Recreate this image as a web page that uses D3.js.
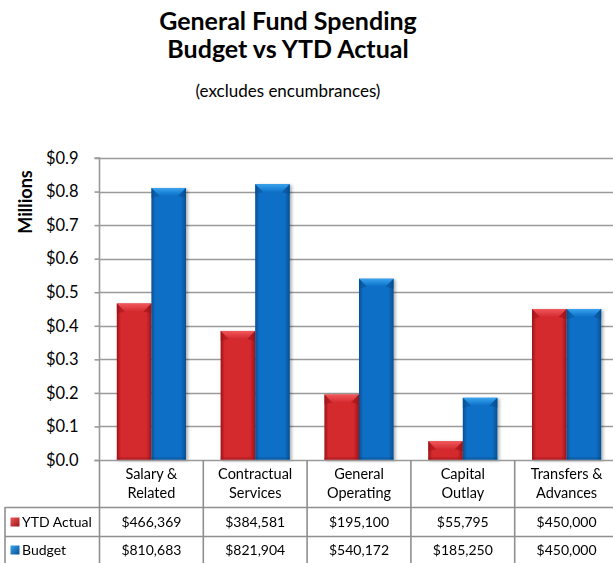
<!DOCTYPE html>
<html><head><meta charset="utf-8">
<script src="https://cdn.jsdelivr.net/npm/d3@7"></script>
<style>html,body{margin:0;padding:0;background:#fff;}svg{display:block;font-family:Lato,"Open Sans",sans-serif;}</style>
</head><body>
<svg id="c" width="613" height="563"></svg>
<script>
const categories = [["Salary &","Related"],["Contractual","Services"],["General","Operating"],["Capital","Outlay"],["Transfers &","Advances"]];
const seriesNames = ["YTD Actual","Budget"];
const ytdActual = [466369, 384581, 195100, 55795, 450000];
const budget = [810683, 821904, 540172, 185250, 450000];
const yTicks = [0,0.1,0.2,0.3,0.4,0.5,0.6,0.7,0.8,0.9];
const series = [ytdActual, budget];
const colors = [{base:"#d42a2f", light:"#f0585c", dark:"#9e1418"},{base:"#0a6fc6", light:"#3aa3ef", dark:"#064f92"}];

(function(){
const svg = d3.select("#c");
const pLeft = 99.5, pRight = 618.5, pTop = 158, pBottom = 460;
const x = d3.scaleBand().domain(d3.range(categories.length)).range([pLeft,pRight]).paddingInner(0).paddingOuter(0);
const xs = d3.scaleBand().domain([0,1]).range([0, x.bandwidth()]).paddingOuter(0.5).paddingInner(0);
const y = d3.scaleLinear().domain([0,0.9]).range([pBottom,pTop]);

const defs = svg.append("defs");
colors.forEach((c,i)=>{
  const g = defs.append("linearGradient").attr("id","g"+i).attr("x1",0).attr("x2",1).attr("y1",0).attr("y2",0);
  g.append("stop").attr("offset","0").attr("stop-color",c.dark);
  g.append("stop").attr("offset","0.12").attr("stop-color",c.base);
  g.append("stop").attr("offset","0.85").attr("stop-color",c.base);
  g.append("stop").attr("offset","1").attr("stop-color",c.dark);
  const t = defs.append("linearGradient").attr("id","t"+i).attr("x1",0).attr("x2",0).attr("y1",0).attr("y2",1);
  t.append("stop").attr("offset","0").attr("stop-color",c.light);
  t.append("stop").attr("offset","1").attr("stop-color",c.base);
  const m = defs.append("linearGradient").attr("id","m"+i).attr("x1",0).attr("x2",1).attr("y1",0).attr("y2",1);
  m.append("stop").attr("offset","0").attr("stop-color",c.light);
  m.append("stop").attr("offset","1").attr("stop-color",c.dark);
});
const f = defs.append("filter").attr("id","sh").attr("x","-20%").attr("y","-5%").attr("width","150%").attr("height","115%");
f.append("feDropShadow").attr("dx",2).attr("dy",1).attr("stdDeviation",1.5).attr("flood-color","#000").attr("flood-opacity",0.3);

// Titles
svg.append("text").attr("x",288).attr("y",30).attr("text-anchor","middle").attr("font-weight","bold").attr("font-size",25).text("General Fund Spending");
svg.append("text").attr("x",288).attr("y",57.5).attr("text-anchor","middle").attr("font-weight","bold").attr("font-size",25).text("Budget vs YTD Actual");
svg.append("text").attr("x",288).attr("y",97).attr("text-anchor","middle").attr("font-size",17).text("(excludes encumbrances)");

// Gridlines
svg.append("g").selectAll("line").data(yTicks.slice(1)).join("line")
  .attr("x1",pLeft).attr("x2",613).attr("y1",d=>Math.round(y(d))+0.5).attr("y2",d=>Math.round(y(d))+0.5)
  .attr("stroke","#9a9a9a").attr("stroke-width",1.6);

// Y axis
const yAxis = d3.axisLeft(y).tickValues(yTicks).tickSize(5).tickPadding(16).tickFormat(d=>"$"+d3.format(".1f")(d));
const ya = svg.append("g").attr("transform",`translate(${pLeft},0)`).call(yAxis);
ya.select(".domain").attr("stroke","#9a9a9a").attr("stroke-width",1.6).attr("d",`M-5,${pTop}H0V${pBottom}`);
ya.selectAll(".tick line").attr("stroke","#9a9a9a").attr("stroke-width",1.6);
ya.selectAll(".tick text").attr("font-size",16.5).attr("fill","#000").attr("font-family","Lato");
svg.append("text").attr("transform","translate(32,202) rotate(-90)").attr("text-anchor","middle").attr("font-weight","bold").attr("font-size",18).text("Millions");

// Bars
series.forEach((s,si)=>{
  const g = svg.append("g").attr("filter","url(#sh)");
  s.forEach((v,ci)=>{
    const bx = x(ci)+xs(si), bw = xs.bandwidth(), by = y(v/1e6), bh = pBottom-by;
    g.append("rect").attr("x",bx).attr("y",by).attr("width",bw).attr("height",bh).attr("fill",`url(#g${si})`);
    const b = Math.min(8, bh/2);
    g.append("path").attr("d",`M${bx},${by}L${bx+bw},${by}L${bx+bw-b},${by+b}L${bx+b},${by+b}Z`).attr("fill",`url(#t${si})`);
    g.append("path").attr("d",`M${bx},${by}L${bx+b},${by+b}L${bx},${by+b+2}Z`).attr("fill",colors[si].dark).attr("opacity",0.5);
    g.append("path").attr("d",`M${bx+bw},${by}L${bx+bw-b},${by+b}L${bx+bw},${by+b+2}Z`).attr("fill",colors[si].dark).attr("opacity",0.6);
    g.append("rect").attr("x",bx).attr("y",pBottom-3).attr("width",bw).attr("height",3).attr("fill",colors[si].dark).attr("opacity",0.4);
  });
});

// Axis baseline
svg.append("line").attr("x1",pLeft-5).attr("x2",613).attr("y1",pBottom+0.5).attr("y2",pBottom+0.5).attr("stroke","#9a9a9a").attr("stroke-width",1.6);

// Data table
const rowTop = 507, rowMid = 536, rowBot = 563;
const tg = svg.append("g").attr("stroke","#8f8f8f").attr("stroke-width",1.6);
d3.range(categories.length+1).forEach(i=>{
  const xx = i<categories.length ? x(i) : pRight;
  tg.append("line").attr("x1",xx).attr("x2",xx).attr("y1",pBottom).attr("y2",rowBot);
});
tg.append("line").attr("x1",5).attr("x2",5).attr("y1",rowTop).attr("y2",rowBot);
[rowTop,rowMid].forEach(yy=>tg.append("line").attr("x1",5).attr("x2",613).attr("y1",yy+0.5).attr("y2",yy+0.5));

categories.forEach((c,i)=>{
  const t = svg.append("text").attr("x",x(i)+x.bandwidth()/2).attr("text-anchor","middle").attr("font-size",14.5);
  t.append("tspan").attr("x",x(i)+x.bandwidth()/2).attr("y",479).text(c[0]);
  t.append("tspan").attr("x",x(i)+x.bandwidth()/2).attr("y",498).text(c[1]);
});
const fmt = d=>"$"+d3.format(",")(d);
const rowY = [527, 555];
series.forEach((s,si)=>{
  s.forEach((v,ci)=>{
    svg.append("text").attr("x",x(ci)+x.bandwidth()/2).attr("y",rowY[si]).attr("text-anchor","middle").attr("font-size",14).text(fmt(v));
  });
  svg.append("rect").attr("x",10.5).attr("y",rowY[si]-9.5).attr("width",9).attr("height",9).attr("fill",`url(#m${si})`);
  svg.append("text").attr("x",22).attr("y",rowY[si]).attr("font-size",14).text(seriesNames[si]);
});
})();
</script>
</body></html>
